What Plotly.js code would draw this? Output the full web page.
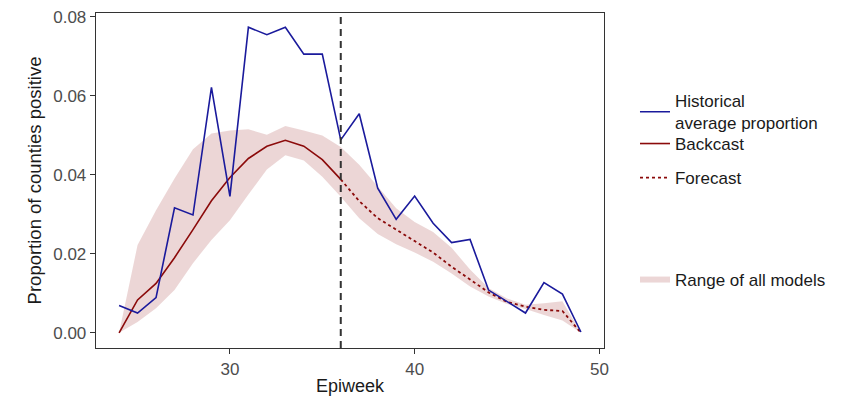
<!DOCTYPE html>
<html><head><meta charset="utf-8">
<script src="https://cdn.plot.ly/plotly-3.0.1.min.js"></script>
<style>html,body{margin:0;padding:0;background:#fff}#chart{width:854px;height:396px}</style>
</head><body><div id="chart"></div>
<script>
// Epiweeks covered by the chart
const weeks = [24,25,26,27,28,29,30,31,32,33,34,35,36,37,38,39,40,41,42,43,44,45,46,47,48,49];
// Historical average proportion (blue)
const historical = [0.0069,0.0050,0.0089,0.0316,0.0298,0.0621,0.0345,0.0773,0.0754,0.0773,0.0705,0.0705,0.0488,0.0554,0.0366,0.0287,0.0346,0.0277,0.0228,0.0236,0.0108,0.0079,0.0050,0.0127,0.0098,0.0002];
// Backcast (solid dark red)
const backcastWeeks = [24,25,26,27,28,29,30,31,32,33,34,35,36];
const backcast = [0.0,0.0083,0.0125,0.0190,0.0261,0.0334,0.0393,0.0441,0.0472,0.0487,0.0472,0.0438,0.0388];
// Forecast (dotted dark red)
const forecastWeeks = [36,37,38,39,40,41,42,43,44,45,46,47,48,49];
const forecast = [0.0388,0.0333,0.0290,0.0262,0.0232,0.0203,0.0167,0.0135,0.0102,0.0078,0.0066,0.0058,0.0055,0.0];
// Range of all models (ribbon)
const rangeUpper = [0.0,0.0222,0.0310,0.0390,0.0464,0.0504,0.0512,0.0515,0.0501,0.0523,0.0512,0.0499,0.0470,0.0425,0.0370,0.0315,0.0280,0.0255,0.0215,0.0160,0.0113,0.0087,0.0071,0.0075,0.0080,0.0];
const rangeLower = [0.0,0.0027,0.0062,0.0108,0.0176,0.0235,0.0285,0.0350,0.0413,0.0449,0.0436,0.0395,0.0344,0.0290,0.0250,0.0224,0.0203,0.0180,0.0150,0.0117,0.0092,0.0073,0.0060,0.0045,0.0031,0.0];
// Forecast start marker
const forecastStart = 36;
const xTicks = [30,40,50];
const yTicks = [0,0.02,0.04,0.06,0.08];

const FONT = 'Liberation Sans, Arial, sans-serif';
const BLUE = '#1a1a9c';
const RED = '#8b0a0a';

const legendBase = {xanchor:'left', yanchor:'middle', bgcolor:'rgba(0,0,0,0)', borderwidth:0,
  font:{family:FONT, size:17, color:'#1a1a1a'}, itemwidth:30};

const traces = [
  {x: weeks.concat(weeks.slice().reverse()), y: rangeUpper.concat(rangeLower.slice().reverse()),
   type:'scatter', mode:'none', fill:'toself', fillcolor:'rgba(139,0,0,0.16)', line:{width:0},
   name:'Range of all models', legend:'legend4', hoverinfo:'skip'},
  {x: backcastWeeks, y: backcast, type:'scatter', mode:'lines', line:{color:RED, width:1.6},
   name:'Backcast', legend:'legend2'},
  {x: forecastWeeks, y: forecast, type:'scatter', mode:'lines', line:{color:RED, width:1.8, dash:'3px,3px'},
   name:'Forecast', legend:'legend3'},
  {x: weeks, y: historical, type:'scatter', mode:'lines', line:{color:BLUE, width:1.6},
   name:'Historical<br>average proportion', legend:'legend'}
];

const axisCommon = {showline:true, mirror:true, linecolor:'#333', linewidth:1.3, ticks:'outside', ticklen:5,
  tickwidth:1.1, tickcolor:'#333', showgrid:false, zeroline:false,
  tickfont:{family:FONT, size:17, color:'#4d4d4d'}};

const layout = {
  width:854, height:396, margin:{l:96, r:250, t:13, b:48},
  paper_bgcolor:'#fff', plot_bgcolor:'#fff', font:{family:FONT},
  showlegend:true,
  xaxis: Object.assign({}, axisCommon, {range:[22.75,50.25], tickvals:xTicks, ticktext:xTicks.map(String),
    title:{text:'Epiweek', font:{family:FONT, size:18, color:'#1a1a1a'}, standoff:3}}),
  yaxis: Object.assign({}, axisCommon, {range:[-0.00385,0.0809], tickvals:yTicks, ticktext:yTicks.map(v=>v.toFixed(2)),
    title:{text:'Proportion of counties positive', font:{family:FONT, size:18.5, color:'#1a1a1a'}, standoff:6}}),
  legend: Object.assign({}, legendBase, {x:1.061, y:0.704}),
  legend2: Object.assign({}, legendBase, {x:1.061, y:0.609}),
  legend3: Object.assign({}, legendBase, {x:1.061, y:0.507}),
  legend4: Object.assign({}, legendBase, {x:1.061, y:0.203}),
  shapes:[{type:'line', xref:'x', yref:'paper', x0:forecastStart, x1:forecastStart, y0:0, y1:1, layer:'above',
    line:{color:'#333', width:2, dash:'7px,5px'}}]
};

Plotly.newPlot('chart', traces, layout, {staticPlot:true, displayModeBar:false});
</script></body></html>
